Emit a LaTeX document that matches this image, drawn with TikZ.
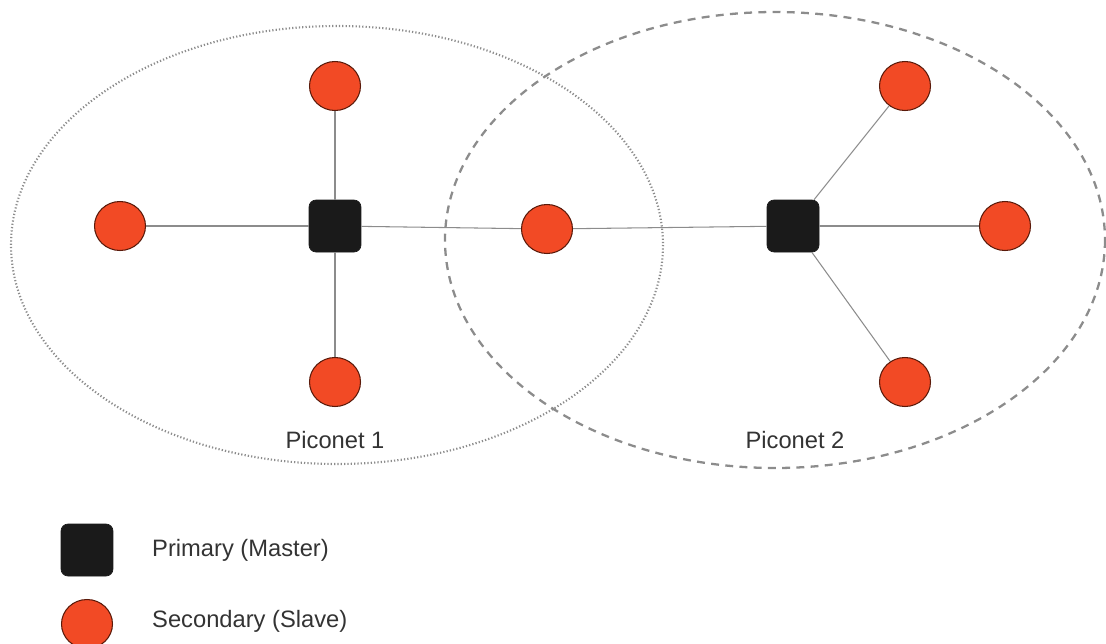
\documentclass[tikz,border=0pt]{standalone}
\usepackage{fontspec}
\setmainfont{Liberation Sans}
\usepackage{xcolor}
\usepackage{tikz}
\usetikzlibrary{shapes.geometric, positioning}

\definecolor{slavered}{HTML}{F24A25}
\definecolor{slaveedge}{HTML}{5A1A0A}
\definecolor{masterblack}{HTML}{1A1A1A}
\definecolor{linkgray}{HTML}{8C8C8C}
\definecolor{textgray}{HTML}{333333}

\begin{document}
\begin{tikzpicture}[
    x=0.02cm, y=-0.02cm,
    master/.style={rectangle, rounded corners=4pt, fill=masterblack, draw=masterblack, minimum size=1.04cm, inner sep=0pt},
    slave/.style={ellipse, fill=slavered, draw=slaveedge, line width=0.6pt, minimum width=1.02cm, minimum height=0.98cm, inner sep=0pt},
    link/.style={draw=linkgray, line width=0.6pt},
    label/.style={text=textgray, font=\fontsize{13.5}{16}\selectfont}
]
    \useasboundingbox (0,0) rectangle (1106,643);

    \draw[linkgray, line width=1.2pt, dash pattern=on 0.7pt off 1.2pt] (337,245) ellipse [x radius=326, y radius=219];
    \draw[linkgray, line width=1.3pt, dash pattern=on 4.5pt off 3.6pt] (775,240) ellipse [x radius=330, y radius=228];

    \node[master] (m1) at (335,226) {};
    \node[master] (m2) at (793,226) {};

    \node[slave] (s1) at (335,86) {};
    \node[slave] (s2) at (120,226) {};
    \node[slave] (s3) at (335,382) {};
    \node[slave] (s4) at (547,229) {};
    \node[slave] (s5) at (905,86) {};
    \node[slave] (s6) at (1005,226) {};
    \node[slave] (s7) at (905,382) {};

    \draw[link] (m1) -- (s1);
    \draw[link] (m1) -- (s2);
    \draw[link] (m1) -- (s3);
    \draw[link] (m1) -- (s4);
    \draw[link] (s4) -- (m2);
    \draw[link] (m2) -- (s5);
    \draw[link] (m2) -- (s6);
    \draw[link] (m2) -- (s7);

    \node[label] (p1) at (335,440) {Piconet 1};
    \node[label] (p2) at (795,440) {Piconet 2};

    \node[master] (lm) at (87,550) {};
    \node[slave] (ls) at (87,624) {};
    \node[label, anchor=west] (lmt) at (146,550) {Primary (Master)};
    \node[label, anchor=west] (lst) at (146,621) {Secondary (Slave)};
\end{tikzpicture}
\end{document}
